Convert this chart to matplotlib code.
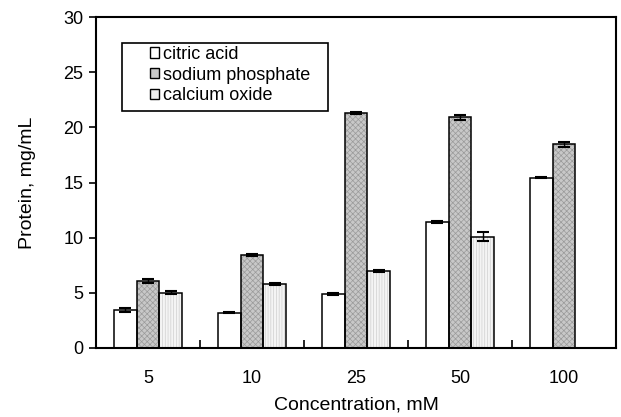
import numpy as np
import matplotlib.pyplot as plt
from matplotlib.patches import Rectangle
from matplotlib.ticker import FixedLocator

plt.rcParams['font.family'] = ['Liberation Sans', 'DejaVu Sans']
plt.rcParams['hatch.linewidth'] = 0.5

# data
conc = ['5', '10', '25', '50', '100']
citric = [3.45, 3.2, 4.9, 11.4, 15.45]
citric_err = [0.15, 0.05, 0.12, 0.1, 0.05]
sodium = [6.07, 8.43, 21.27, 20.9, 18.45]
sodium_err = [0.15, 0.1, 0.1, 0.25, 0.2]
calcium = [5.0, 5.83, 7.0, 10.1, np.nan]
calcium_err = [0.15, 0.1, 0.1, 0.4, np.nan]

fig = plt.figure(figsize=(6.21, 4.17), dpi=100)
ax = fig.add_axes([96/621, 1-348/417, 520/621, 331/417])

x = np.arange(len(conc))
w = 0.22
ek = dict(ecolor='black', elinewidth=1, capsize=4, capthick=1.5)

# fills with grey hatching, then black outlines on top
ax.bar(x, sodium, w, color='#c8c8c8', edgecolor='#9a9a9a', hatch='xxxxxx', linewidth=0)
ax.bar(x + w, calcium, w, color='#f4f4f4', edgecolor='#cfcfcf', hatch='||||||', linewidth=0)

ax.bar(x - w, citric, w, yerr=citric_err, color='white', edgecolor='black',
       linewidth=1.1, error_kw=ek)
ax.bar(x, sodium, w, yerr=sodium_err, fill=False, edgecolor='black',
       linewidth=1.1, error_kw=ek)
ax.bar(x + w, calcium, w, yerr=calcium_err, fill=False, edgecolor='black',
       linewidth=1.1, error_kw=ek)

ax.set_xlim(-0.5, len(conc) - 0.5)
ax.set_ylim(0, 30)
ax.set_yticks(range(0, 31, 5))
ax.set_xticks(x)
ax.set_xticklabels(conc)
ax.xaxis.set_minor_locator(FixedLocator(np.arange(0.5, len(conc) - 1, 1)))
ax.tick_params(axis='x', which='major', length=0, labelsize=13, pad=16)
ax.tick_params(axis='x', which='minor', direction='in', length=6, width=1.2)
ax.tick_params(axis='y', direction='out', length=5, width=1.2, labelsize=13, pad=4)
for s in ax.spines.values():
    s.set_linewidth(1.5)

ax.set_xlabel('Concentration, mM', fontsize=14, labelpad=7)
ax.set_ylabel('Protein, mg/mL', fontsize=14, labelpad=19.5)

# legend: entries without frame, frame drawn separately
handles = [
    Rectangle((0, 0), 1, 1, facecolor='white', edgecolor='black', linewidth=1),
    Rectangle((0, 0), 1, 1, facecolor='#c8c8c8', edgecolor='black', linewidth=1),
    Rectangle((0, 0), 1, 1, facecolor='#ececec', edgecolor='black', linewidth=1),
]
labels = ['citric acid', 'sodium phosphate', 'calcium oxide']
ax.legend(handles, labels, loc='upper left',
          bbox_to_anchor=((150-96)/520, (348-46)/331), fontsize=13,
          frameon=False, handlelength=0.5, handleheight=0.5,
          handletextpad=0.2, labelspacing=0.2, borderpad=0, borderaxespad=0)
ax.add_patch(Rectangle(((122-96)/520, (348-111)/331), (328-122)/520, 68/331,
                       transform=ax.transAxes, fill=False, edgecolor='black',
                       linewidth=1.2, zorder=5))

fig.savefig('out.png', dpi=100)
